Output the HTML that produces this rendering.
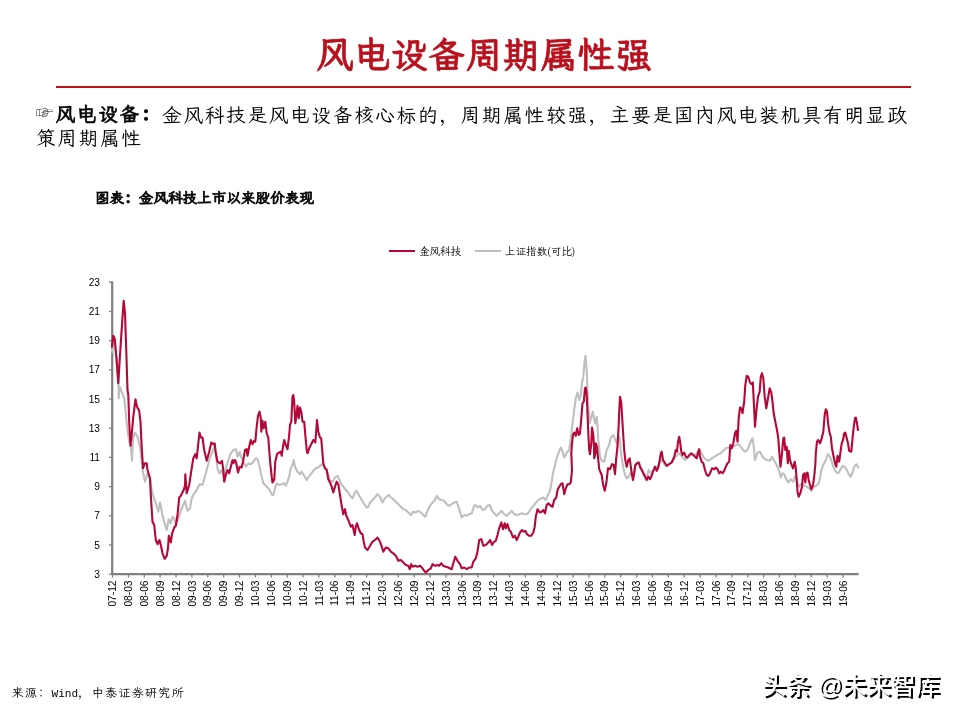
<!DOCTYPE html>
<html lang="zh-CN"><head><meta charset="utf-8"><title>风电设备周期属性强</title>
<style>
html,body{margin:0;padding:0;background:#fff;}
body{width:960px;height:720px;position:relative;overflow:hidden;font-family:"LXGW WenKai TC","Noto Serif CJK SC",serif;color:#000;}
.kai{font-family:"LXGW WenKai TC","Noto Serif CJK SC",serif;}
#title{position:absolute;left:0;width:968px;top:31px;height:48px;line-height:48px;text-align:center;font-size:37.3px;font-weight:bold;color:#b8101c;-webkit-text-stroke:0.7px #b8101c;white-space:nowrap;}
#rule{position:absolute;left:56px;width:855px;top:85.6px;height:2.9px;background:#be1219;}
#body{position:absolute;left:36px;top:100.5px;width:940px;font-size:19.7px;letter-spacing:1.63px;line-height:24px;white-space:nowrap;}
.hand{display:inline-block;width:19.5px;font-size:17px;letter-spacing:0;vertical-align:2.5px;}
#body b{font-weight:bold;-webkit-text-stroke:0.6px #000;}
.p{font-family:"Noto Serif CJK SC",serif;}
#cap{position:absolute;left:95px;top:187px;font-size:14.6px;line-height:20px;font-weight:bold;white-space:nowrap;-webkit-text-stroke:0.7px #000;}
#src{position:absolute;left:11.5px;top:683px;font-size:12.2px;letter-spacing:1.13px;line-height:18px;white-space:nowrap;}
#src i{font-style:normal;font-family:"Liberation Mono",monospace;font-size:11.1px;letter-spacing:0;}
#wm{position:absolute;left:762px;top:669.5px;font-size:24.4px;line-height:32px;white-space:nowrap;font-family:"Liberation Sans","Noto Sans CJK SC",sans-serif;font-weight:500;color:#fff;text-shadow:2px 2px 0 #000;}
svg{position:absolute;left:0;top:0;}
svg text{font-family:"Liberation Sans",sans-serif;font-size:10.2px;fill:#000;}
svg text.lg{font-family:"LXGW WenKai TC","Noto Serif CJK SC",serif;font-size:10.5px;}
</style></head><body>
<div id="title">风电设备周期属性强</div>
<div id="rule"></div>
<div id="body"><span class="hand">☞</span><b>风电设备<span class="p">：</span></b>金风科技是风电设备核心标的<span class="p">，</span>周期属性较强<span class="p">，</span>主要是国内风电装机具有明显政<br>策周期属性</div>
<div id="cap">图表<span class="p">：</span>金风科技上市以来股价表现</div>
<svg width="960" height="720" viewBox="0 0 960 720">
<g stroke="#808080" stroke-width="1.3" fill="none"><line x1="112.5" y1="574" x2="112.5" y2="577.5"/><line x1="128.4" y1="574" x2="128.4" y2="577.5"/><line x1="144.3" y1="574" x2="144.3" y2="577.5"/><line x1="160.1" y1="574" x2="160.1" y2="577.5"/><line x1="176.0" y1="574" x2="176.0" y2="577.5"/><line x1="191.9" y1="574" x2="191.9" y2="577.5"/><line x1="207.8" y1="574" x2="207.8" y2="577.5"/><line x1="223.7" y1="574" x2="223.7" y2="577.5"/><line x1="239.5" y1="574" x2="239.5" y2="577.5"/><line x1="255.4" y1="574" x2="255.4" y2="577.5"/><line x1="271.3" y1="574" x2="271.3" y2="577.5"/><line x1="287.2" y1="574" x2="287.2" y2="577.5"/><line x1="303.1" y1="574" x2="303.1" y2="577.5"/><line x1="318.9" y1="574" x2="318.9" y2="577.5"/><line x1="334.8" y1="574" x2="334.8" y2="577.5"/><line x1="350.7" y1="574" x2="350.7" y2="577.5"/><line x1="366.6" y1="574" x2="366.6" y2="577.5"/><line x1="382.5" y1="574" x2="382.5" y2="577.5"/><line x1="398.3" y1="574" x2="398.3" y2="577.5"/><line x1="414.2" y1="574" x2="414.2" y2="577.5"/><line x1="430.1" y1="574" x2="430.1" y2="577.5"/><line x1="446.0" y1="574" x2="446.0" y2="577.5"/><line x1="461.9" y1="574" x2="461.9" y2="577.5"/><line x1="477.8" y1="574" x2="477.8" y2="577.5"/><line x1="493.6" y1="574" x2="493.6" y2="577.5"/><line x1="509.5" y1="574" x2="509.5" y2="577.5"/><line x1="525.4" y1="574" x2="525.4" y2="577.5"/><line x1="541.3" y1="574" x2="541.3" y2="577.5"/><line x1="557.2" y1="574" x2="557.2" y2="577.5"/><line x1="573.0" y1="574" x2="573.0" y2="577.5"/><line x1="588.9" y1="574" x2="588.9" y2="577.5"/><line x1="604.8" y1="574" x2="604.8" y2="577.5"/><line x1="620.7" y1="574" x2="620.7" y2="577.5"/><line x1="636.6" y1="574" x2="636.6" y2="577.5"/><line x1="652.4" y1="574" x2="652.4" y2="577.5"/><line x1="668.3" y1="574" x2="668.3" y2="577.5"/><line x1="684.2" y1="574" x2="684.2" y2="577.5"/><line x1="700.1" y1="574" x2="700.1" y2="577.5"/><line x1="716.0" y1="574" x2="716.0" y2="577.5"/><line x1="731.8" y1="574" x2="731.8" y2="577.5"/><line x1="747.7" y1="574" x2="747.7" y2="577.5"/><line x1="763.6" y1="574" x2="763.6" y2="577.5"/><line x1="779.5" y1="574" x2="779.5" y2="577.5"/><line x1="795.4" y1="574" x2="795.4" y2="577.5"/><line x1="811.2" y1="574" x2="811.2" y2="577.5"/><line x1="827.1" y1="574" x2="827.1" y2="577.5"/><line x1="843.0" y1="574" x2="843.0" y2="577.5"/><line x1="109" y1="574.2" x2="112" y2="574.2"/><line x1="109" y1="545.0" x2="112" y2="545.0"/><line x1="109" y1="515.8" x2="112" y2="515.8"/><line x1="109" y1="486.6" x2="112" y2="486.6"/><line x1="109" y1="457.4" x2="112" y2="457.4"/><line x1="109" y1="428.2" x2="112" y2="428.2"/><line x1="109" y1="399.0" x2="112" y2="399.0"/><line x1="109" y1="369.8" x2="112" y2="369.8"/><line x1="109" y1="340.6" x2="112" y2="340.6"/><line x1="109" y1="311.4" x2="112" y2="311.4"/><line x1="109" y1="282.2" x2="112" y2="282.2"/></g>
<path d="M112.2,281.3V574.2H858.5" stroke="#808080" stroke-width="2.2" fill="none"/>
<polyline points="112.0,352.0 113.9,341.0 115.6,352.0 117.8,378.0 118.3,380.0 118.7,398.3 119.7,386.7 121.7,391.7 124.2,398.3 125.8,413.3 127.5,430.0 129.2,441.7 130.8,446.7 132.0,460.8 133.0,438.3 135.0,432.5 137.5,436.7 140.0,446.7 141.7,460.0 142.5,470.0 145.0,481.7 147.5,473.3 150.0,478.3 152.0,491.7 155.8,503.3 158.3,511.7 160.0,502.5 162.5,515.0 165.0,525.0 166.7,530.0 168.7,519.2 170.8,523.3 172.5,516.7 174.2,518.3 175.8,525.0 178.3,518.3 181.7,508.3 185.0,500.8 187.5,510.8 190.0,508.3 191.7,498.3 194.2,493.3 196.7,490.0 198.3,486.7 200.0,484.2 202.5,485.0 204.2,479.2 206.7,470.0 209.2,460.0 211.7,453.3 214.2,446.7 215.8,453.3 217.5,468.3 219.2,473.3 221.7,470.0 224.2,478.3 225.8,468.3 228.3,460.0 230.8,453.3 233.3,450.0 235.8,449.2 237.5,456.7 239.7,452.0 240.0,453.3 241.7,458.3 243.3,461.7 245.8,466.7 248.3,463.3 250.8,464.2 253.3,461.7 255.8,458.3 257.5,459.2 259.2,465.0 260.8,473.3 263.3,483.3 266.7,486.7 269.2,489.2 271.7,494.2 273.3,495.0 275.0,488.3 276.7,483.3 279.2,485.0 281.7,484.2 284.2,483.3 285.8,485.8 287.5,481.7 289.2,476.7 290.8,468.3 292.5,465.0 293.7,460.0 295.0,466.7 297.5,471.7 300.0,474.2 301.7,471.7 304.2,475.8 306.7,480.0 308.3,477.5 310.8,474.2 313.3,470.8 315.8,468.3 318.3,467.5 320.8,465.0 322.5,464.2 324.2,466.7 326.7,470.0 328.3,475.0 330.0,480.8 332.5,481.7 335.0,477.5 337.5,475.8 339.2,479.2 340.8,483.3 343.3,486.7 345.8,490.0 348.3,492.5 350.8,496.7 352.5,498.3 355.0,492.5 356.7,490.8 359.2,495.8 361.7,500.0 364.2,504.2 366.7,507.5 368.3,506.7 370.0,502.5 372.5,500.0 375.0,497.5 377.5,494.2 380.0,496.7 382.5,502.5 385.0,498.3 387.5,495.8 389.2,495.0 390.8,497.5 393.3,499.2 395.8,501.7 398.3,504.2 400.8,506.7 403.3,509.2 405.8,510.0 408.3,512.5 410.8,515.0 413.3,511.7 415.8,512.5 418.3,510.8 420.8,512.5 423.3,515.0 425.3,516.7 427.5,510.8 430.0,505.8 432.5,502.5 435.0,500.0 436.7,495.8 439.2,499.2 441.7,500.0 444.2,500.8 446.7,504.2 449.2,505.8 451.7,504.2 454.2,502.5 456.7,501.7 459.2,509.2 461.7,517.5 464.2,515.0 466.7,515.8 469.2,514.2 471.7,513.3 474.2,505.8 475.8,505.0 477.5,507.5 480.0,505.8 482.5,510.0 485.0,509.2 487.5,505.8 489.7,505.0 491.7,510.0 494.2,513.3 496.7,515.8 499.2,513.3 501.7,510.8 504.2,514.2 506.7,515.8 509.2,513.3 511.7,510.8 514.2,514.2 516.7,515.0 519.2,514.2 521.7,513.3 524.2,514.2 526.7,514.2 529.2,511.7 531.7,507.5 534.2,505.0 536.7,501.7 539.2,499.2 541.7,498.3 543.3,497.5 545.8,500.0 547.5,495.8 550.0,490.8 551.7,481.7 553.3,471.7 555.0,465.0 556.7,458.3 558.3,453.3 560.8,447.5 562.5,451.7 564.2,457.5 566.7,452.5 569.2,450.0 570.8,438.3 572.5,423.3 574.2,410.0 575.8,398.3 577.5,392.5 579.2,400.0 580.8,395.0 582.0,383.3 583.3,376.7 584.7,360.0 585.5,355.8 586.7,370.0 587.5,390.0 588.7,410.0 589.7,423.3 591.3,416.7 592.8,411.7 594.2,420.0 595.3,423.3 596.7,416.7 597.5,426.7 598.3,440.0 599.7,453.3 600.0,456.7 601.7,460.8 604.2,461.7 606.7,450.0 609.2,445.0 610.8,437.5 613.3,435.0 615.0,439.2 616.7,443.3 618.3,435.8 619.7,438.3 620.8,451.7 622.5,463.3 624.2,471.7 626.3,478.3 628.7,476.7 630.8,472.5 633.3,476.7 635.0,466.7 637.0,463.3 639.2,462.5 640.8,468.3 643.0,471.7 645.0,475.0 647.0,475.8 648.7,470.0 650.8,473.3 653.0,470.8 655.0,468.3 657.0,466.7 659.2,464.2 661.3,460.0 663.3,461.7 665.3,465.8 667.5,465.0 670.0,463.3 672.5,461.7 675.0,457.5 677.0,455.0 679.2,453.3 681.3,455.8 683.3,458.3 685.3,460.0 687.5,457.5 690.0,455.8 692.5,454.2 695.0,455.8 697.5,452.5 699.7,450.8 701.7,453.3 703.7,457.5 705.8,459.2 708.3,460.8 710.8,459.2 713.3,457.5 715.8,455.8 718.3,454.2 720.8,453.3 723.3,450.8 725.8,448.3 728.3,447.5 730.8,448.3 733.3,446.7 735.8,445.0 738.3,444.2 740.0,445.8 742.5,449.2 745.0,451.7 747.5,450.0 750.0,443.3 752.5,438.3 753.8,446.7 755.0,460.0 757.5,452.5 760.0,451.7 762.5,456.7 765.0,459.2 767.5,460.0 770.0,460.8 772.0,456.7 774.2,460.8 776.7,465.0 779.2,470.8 780.8,477.5 782.5,473.3 784.2,474.2 785.8,478.3 788.3,482.5 790.8,479.2 793.3,481.7 795.8,475.0 797.0,481.7 799.2,486.7 801.7,483.3 804.2,485.8 806.7,486.7 809.2,488.3 811.3,490.8 813.3,487.5 815.8,485.8 818.3,484.2 820.0,478.3 821.3,470.0 823.3,465.0 825.8,460.0 828.0,454.2 830.0,456.7 831.7,461.7 833.3,466.7 835.8,471.7 838.3,473.3 840.3,470.0 842.5,465.8 844.7,466.7 846.7,470.0 849.2,475.0 850.8,476.7 852.5,472.5 854.2,466.7 856.3,464.2 858.3,467.5" fill="none" stroke="#bfbfbf" stroke-width="2.1" stroke-linejoin="round" stroke-linecap="round"/>
<polyline points="112.0,346.7 113.3,335.8 114.7,338.3 116.7,360.0 118.3,383.3 119.7,360.0 121.3,335.0 123.0,310.0 123.7,300.8 125.0,313.3 126.3,351.7 127.5,390.0 128.3,395.0 129.2,421.7 130.0,436.7 130.5,445.8 131.7,435.0 133.3,416.7 135.5,399.2 137.0,406.7 139.2,410.8 140.5,421.7 141.7,446.7 143.0,468.3 144.7,463.3 146.7,463.3 147.5,470.0 150.0,478.3 150.8,495.0 152.5,521.7 154.2,525.0 155.8,540.0 157.5,544.2 159.5,540.0 160.8,545.0 162.5,553.3 164.7,558.8 166.7,555.8 168.0,548.3 168.8,535.8 170.8,542.5 172.0,534.2 174.2,527.5 175.8,525.8 177.5,515.0 179.2,497.5 180.8,495.8 183.3,490.8 185.0,485.8 185.3,474.2 186.7,493.3 189.2,485.0 191.3,470.8 193.3,458.3 195.3,454.2 196.7,458.3 198.3,443.3 199.5,432.5 200.8,437.5 202.5,437.5 204.2,450.0 206.7,460.8 209.2,451.7 211.3,442.5 213.3,444.2 214.7,443.3 215.8,453.3 217.5,461.7 220.0,463.3 222.0,460.8 223.3,470.0 224.2,481.7 226.3,473.3 227.5,470.0 229.2,473.3 230.8,466.7 232.5,460.0 233.3,463.3 235.0,460.0 236.3,463.3 238.0,472.5 239.7,466.7 240.0,466.7 241.7,467.5 243.3,460.0 245.0,450.0 246.7,449.2 247.5,455.8 249.2,446.7 250.8,440.0 252.5,444.2 254.2,440.8 255.3,441.7 256.7,426.7 258.0,415.8 259.5,411.7 260.8,418.3 261.3,431.7 262.5,420.8 263.7,428.3 265.3,421.7 266.7,433.3 268.3,437.5 269.2,450.0 270.3,463.3 271.7,476.7 272.5,482.5 274.2,480.0 275.3,461.7 277.0,454.2 279.2,452.5 280.8,451.7 281.7,455.8 283.0,446.7 284.2,440.0 285.8,445.0 287.5,449.2 289.2,435.0 290.0,425.0 291.3,421.7 292.5,396.7 293.3,395.0 294.2,401.7 295.3,423.3 296.7,413.3 297.5,405.8 298.7,418.3 300.0,407.5 301.3,411.7 302.5,421.7 304.2,421.7 305.3,435.0 306.7,450.0 307.5,453.3 309.2,448.3 311.7,443.3 313.3,440.0 315.3,442.5 316.3,430.0 317.0,420.0 318.3,431.7 320.0,437.5 321.2,438.3 322.2,450.0 323.3,463.3 325.0,468.3 326.7,470.0 328.3,479.2 330.0,482.5 331.7,486.7 333.3,492.5 335.0,486.7 336.7,481.7 338.3,484.2 340.0,495.0 341.7,505.8 343.3,514.2 345.0,509.2 346.3,515.8 348.3,520.0 350.8,526.7 352.5,525.0 354.7,535.0 355.8,526.7 357.0,523.3 359.2,530.0 360.8,533.3 362.5,534.2 363.7,541.7 365.0,547.5 367.5,550.0 370.0,545.8 372.5,541.7 375.0,540.0 377.5,537.5 380.0,541.7 382.0,547.5 383.3,551.7 385.8,547.5 388.3,548.3 390.8,551.7 393.3,553.3 395.8,555.8 398.3,560.8 400.8,560.0 403.3,562.5 405.8,565.0 408.3,565.8 409.7,569.2 411.2,564.2 412.5,566.7 415.0,565.8 417.5,566.7 420.0,565.8 422.5,568.3 424.2,570.8 425.8,572.5 428.3,570.0 430.8,568.3 432.5,564.2 435.0,565.8 437.5,565.0 439.2,565.8 441.3,563.3 443.3,565.8 445.8,566.7 448.3,567.5 451.7,569.2 453.3,563.3 455.3,556.7 457.5,560.8 460.0,564.2 461.7,568.3 464.2,567.5 466.7,569.2 469.2,567.5 471.7,567.5 473.3,561.7 475.8,558.3 477.5,551.7 479.2,540.0 481.3,539.2 483.3,545.8 485.8,545.0 488.3,542.5 490.3,540.0 492.0,545.0 494.2,541.7 495.8,540.8 497.5,535.0 499.2,528.3 501.3,522.5 503.0,529.2 504.7,523.3 505.8,528.3 507.5,524.2 509.2,530.0 510.8,531.7 513.0,537.5 515.0,535.8 516.7,540.0 518.3,536.7 520.0,532.5 522.0,530.0 523.7,531.7 525.3,530.8 527.0,534.2 529.2,535.8 531.3,535.8 533.3,532.5 534.7,526.7 535.8,516.7 537.5,509.2 539.7,512.5 541.7,511.7 543.3,510.0 545.0,513.3 546.7,505.0 548.3,503.3 550.8,505.8 552.5,506.7 554.2,500.0 556.3,497.5 557.5,490.0 559.2,486.7 560.8,484.2 562.5,483.3 564.2,494.2 565.8,488.3 567.5,484.2 569.2,484.2 570.8,482.5 572.0,470.0 571.3,453.3 572.0,443.3 573.0,435.0 574.2,432.5 575.8,435.8 577.2,428.3 578.7,435.0 580.0,433.3 581.3,418.3 582.5,403.3 583.8,401.7 585.0,388.3 585.8,387.5 586.7,395.0 587.5,413.3 588.3,433.3 589.2,450.0 590.0,454.2 591.3,443.3 592.0,427.5 593.3,435.0 594.0,446.7 594.2,458.3 595.8,451.7 595.8,443.3 597.0,446.7 598.3,460.0 599.2,469.2 601.7,475.0 603.0,484.2 604.7,490.8 606.3,483.3 608.0,468.3 610.0,469.2 612.0,464.2 613.7,465.0 615.0,474.2 616.2,458.3 617.5,446.7 618.7,425.0 619.2,411.7 620.0,396.7 621.3,403.3 622.5,423.3 624.2,450.0 625.3,460.0 626.7,466.7 628.3,460.0 629.7,458.3 630.8,466.7 632.0,475.0 633.0,480.0 634.2,473.3 635.3,465.0 637.0,463.3 638.7,462.5 640.0,466.7 641.7,470.0 643.3,473.3 645.0,476.7 646.7,480.0 648.3,476.7 650.0,479.2 651.7,475.8 653.3,470.8 655.0,466.7 656.7,470.8 658.3,467.5 659.7,460.0 660.8,453.3 661.7,451.7 663.0,460.0 664.7,462.5 666.7,465.8 669.2,464.2 671.7,462.5 674.2,456.7 675.8,450.0 677.0,451.7 678.0,441.7 679.2,436.7 680.3,443.3 681.3,451.7 682.5,455.0 684.2,452.5 685.8,456.7 687.5,457.5 689.2,455.0 691.3,453.3 693.3,455.0 695.0,456.7 696.7,458.3 698.3,451.7 699.2,449.2 700.0,456.7 701.7,461.7 703.3,463.3 705.0,470.0 706.7,475.0 708.3,475.8 710.0,473.3 712.0,468.3 714.2,469.2 715.8,467.5 717.5,469.2 719.2,473.3 720.8,471.7 722.5,473.3 724.2,470.8 725.8,466.7 727.5,463.3 729.2,461.7 730.3,445.0 731.7,448.3 733.3,443.3 735.0,433.3 736.2,430.8 737.5,441.7 738.7,418.3 740.0,407.5 741.3,408.3 742.5,413.3 744.2,401.7 745.3,385.0 746.7,375.8 748.3,376.7 750.0,382.5 751.7,384.2 752.8,382.5 753.8,401.7 755.0,426.7 756.3,411.7 758.0,396.7 759.7,391.7 760.8,376.7 762.0,373.3 763.3,378.3 764.7,396.7 766.3,408.3 768.0,398.3 769.7,388.3 771.3,392.5 772.5,401.7 773.7,413.3 775.3,421.7 777.0,430.0 778.3,438.3 779.5,455.0 780.5,466.7 782.0,453.3 783.3,438.3 784.2,437.5 785.3,450.0 786.7,446.7 787.8,463.3 788.8,450.8 790.0,460.0 791.3,464.2 793.0,468.3 794.7,461.7 795.8,468.3 796.7,480.0 797.5,491.7 798.7,496.7 800.3,493.3 802.0,486.7 803.0,475.0 804.2,473.3 805.3,482.5 806.3,473.3 807.5,472.5 808.7,480.0 810.0,485.0 811.3,489.2 813.0,485.0 814.2,476.7 815.3,465.0 815.8,453.3 817.0,441.7 818.3,440.0 820.0,443.3 821.7,438.3 823.3,431.7 824.7,415.0 825.8,409.2 827.0,411.7 828.3,425.0 829.7,433.3 830.8,436.7 832.0,448.3 833.3,455.0 835.0,463.3 836.3,466.7 837.5,455.8 839.2,461.7 840.3,453.3 841.7,443.3 843.0,440.0 844.2,433.3 845.3,432.5 846.7,438.3 848.0,443.3 849.2,450.8 851.3,451.7 852.5,438.3 853.8,426.7 855.0,418.3 855.8,417.5 857.0,423.3 858.0,430.0" fill="none" stroke="#b30838" stroke-width="2.1" stroke-linejoin="round" stroke-linecap="round"/>
<g><text x="100" y="577.8" text-anchor="end">3</text><text x="100" y="548.6" text-anchor="end">5</text><text x="100" y="519.4" text-anchor="end">7</text><text x="100" y="490.2" text-anchor="end">9</text><text x="100" y="461.0" text-anchor="end">11</text><text x="100" y="431.8" text-anchor="end">13</text><text x="100" y="402.6" text-anchor="end">15</text><text x="100" y="373.4" text-anchor="end">17</text><text x="100" y="344.2" text-anchor="end">19</text><text x="100" y="315.0" text-anchor="end">21</text><text x="100" y="285.8" text-anchor="end">23</text></g>
<g><text transform="translate(116.1,580.5) rotate(-90)" text-anchor="end">07-12</text><text transform="translate(132.0,580.5) rotate(-90)" text-anchor="end">08-03</text><text transform="translate(147.9,580.5) rotate(-90)" text-anchor="end">08-06</text><text transform="translate(163.7,580.5) rotate(-90)" text-anchor="end">08-09</text><text transform="translate(179.6,580.5) rotate(-90)" text-anchor="end">08-12</text><text transform="translate(195.5,580.5) rotate(-90)" text-anchor="end">09-03</text><text transform="translate(211.4,580.5) rotate(-90)" text-anchor="end">09-06</text><text transform="translate(227.3,580.5) rotate(-90)" text-anchor="end">09-09</text><text transform="translate(243.1,580.5) rotate(-90)" text-anchor="end">09-12</text><text transform="translate(259.0,580.5) rotate(-90)" text-anchor="end">10-03</text><text transform="translate(274.9,580.5) rotate(-90)" text-anchor="end">10-06</text><text transform="translate(290.8,580.5) rotate(-90)" text-anchor="end">10-09</text><text transform="translate(306.7,580.5) rotate(-90)" text-anchor="end">10-12</text><text transform="translate(322.5,580.5) rotate(-90)" text-anchor="end">11-03</text><text transform="translate(338.4,580.5) rotate(-90)" text-anchor="end">11-06</text><text transform="translate(354.3,580.5) rotate(-90)" text-anchor="end">11-09</text><text transform="translate(370.2,580.5) rotate(-90)" text-anchor="end">11-12</text><text transform="translate(386.1,580.5) rotate(-90)" text-anchor="end">12-03</text><text transform="translate(401.9,580.5) rotate(-90)" text-anchor="end">12-06</text><text transform="translate(417.8,580.5) rotate(-90)" text-anchor="end">12-09</text><text transform="translate(433.7,580.5) rotate(-90)" text-anchor="end">12-12</text><text transform="translate(449.6,580.5) rotate(-90)" text-anchor="end">13-03</text><text transform="translate(465.5,580.5) rotate(-90)" text-anchor="end">13-06</text><text transform="translate(481.4,580.5) rotate(-90)" text-anchor="end">13-09</text><text transform="translate(497.2,580.5) rotate(-90)" text-anchor="end">13-12</text><text transform="translate(513.1,580.5) rotate(-90)" text-anchor="end">14-03</text><text transform="translate(529.0,580.5) rotate(-90)" text-anchor="end">14-06</text><text transform="translate(544.9,580.5) rotate(-90)" text-anchor="end">14-09</text><text transform="translate(560.8,580.5) rotate(-90)" text-anchor="end">14-12</text><text transform="translate(576.6,580.5) rotate(-90)" text-anchor="end">15-03</text><text transform="translate(592.5,580.5) rotate(-90)" text-anchor="end">15-06</text><text transform="translate(608.4,580.5) rotate(-90)" text-anchor="end">15-09</text><text transform="translate(624.3,580.5) rotate(-90)" text-anchor="end">15-12</text><text transform="translate(640.2,580.5) rotate(-90)" text-anchor="end">16-03</text><text transform="translate(656.0,580.5) rotate(-90)" text-anchor="end">16-06</text><text transform="translate(671.9,580.5) rotate(-90)" text-anchor="end">16-09</text><text transform="translate(687.8,580.5) rotate(-90)" text-anchor="end">16-12</text><text transform="translate(703.7,580.5) rotate(-90)" text-anchor="end">17-03</text><text transform="translate(719.6,580.5) rotate(-90)" text-anchor="end">17-06</text><text transform="translate(735.4,580.5) rotate(-90)" text-anchor="end">17-09</text><text transform="translate(751.3,580.5) rotate(-90)" text-anchor="end">17-12</text><text transform="translate(767.2,580.5) rotate(-90)" text-anchor="end">18-03</text><text transform="translate(783.1,580.5) rotate(-90)" text-anchor="end">18-06</text><text transform="translate(799.0,580.5) rotate(-90)" text-anchor="end">18-09</text><text transform="translate(814.8,580.5) rotate(-90)" text-anchor="end">18-12</text><text transform="translate(830.7,580.5) rotate(-90)" text-anchor="end">19-03</text><text transform="translate(846.6,580.5) rotate(-90)" text-anchor="end">19-06</text></g>
<line x1="389" y1="251" x2="415" y2="251" stroke="#b30838" stroke-width="2"/>
<text class="lg" x="419" y="254.8">金风科技</text>
<line x1="475" y1="251" x2="501" y2="251" stroke="#bfbfbf" stroke-width="2"/>
<text class="lg" x="505" y="254.8">上证指数(可比)</text>
</svg>
<div id="src">来源<span class="p">：</span><i>Wind</i><span class="p">，</span>中泰证券研究所</div>
<div id="wm">头条 @未来智库</div>
</body></html>
